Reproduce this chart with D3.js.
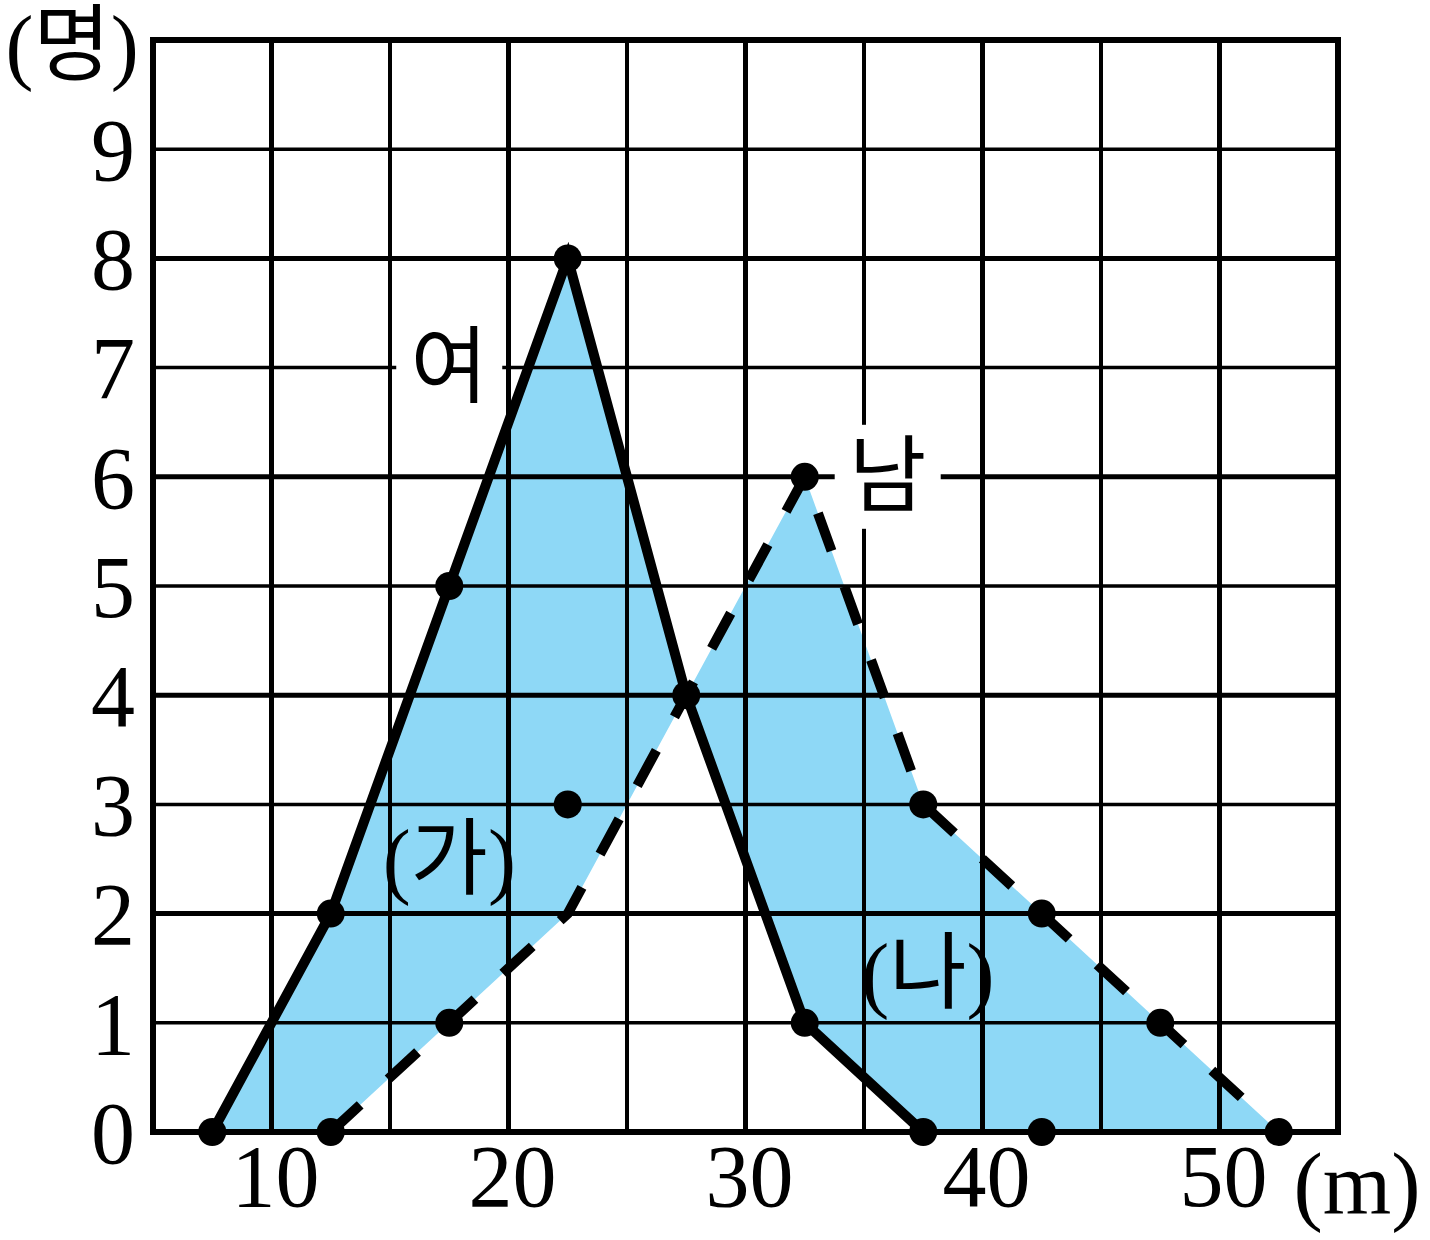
<!DOCTYPE html>
<html><head><meta charset="utf-8">
<script src="https://cdn.jsdelivr.net/npm/d3@7"></script>
<style>body{margin:0;background:#fff}svg{display:block}</style>
</head><body>
<script>
// ---- data ----
const classMarks = [7.5,12.5,17.5,22.5,27.5,32.5,37.5,42.5,47.5,52.5];
const femaleX = [7.5,12.5,17.5,22.5,27.5,32.5,37.5];
const femaleY = [0,2,5,8,4,1,0];
const maleX = [12.5,17.5,22.5,27.5,32.5,37.5,42.5,47.5,52.5];
const maleY = [0,1,2,4,6,3,2,1,0];
const markerX = [7.5,12.5,17.5,22.5,27.5,32.5,37.5,42.5,12.5,17.5,22.5,32.5,37.5,42.5,47.5,52.5];
const markerY = [0,2,5,8,4,1,0,0,0,1,3,6,3,2,1,0];
const xTicks = [10,20,30,40,50];
const yTicks = [0,1,2,3,4,5,6,7,8,9];
const xGrid = [10,15,20,25,30,35,40,45,50];
const yGrid = [1,2,3,4,5,6,7,8,9];
const labels = [
  {text:"여", x:17.5, y:7.0, box:true},
  {text:"남", x:36.0, y:6.0, box:true},
  {text:"(가)", x:17.5, y:2.5, box:false},
  {text:"(나)", x:37.7, y:1.45, box:false}
];

const W=1430,H=1240;
const svg=d3.select("body").append("svg").attr("width",W).attr("height",H);
const x=d3.scaleLinear().domain([5,55]).range([153,1338]);
const y=d3.scaleLinear().domain([0,10]).range([1132,40]);
const serif='"Liberation Serif","Noto Sans CJK KR",serif';

// fill between the two polygons
const lookup=(xs,ys,v)=>{const i=xs.indexOf(v);return i<0?0:ys[i];};
const fillData=classMarks.map(c=>({c,f:lookup(femaleX,femaleY,c),m:lookup(maleX,maleY,c)}));
svg.append("path").datum(fillData)
  .attr("d",d3.area().x(d=>x(d.c)).y0(d=>y(d.f)).y1(d=>y(d.m)))
  .attr("fill","#8ed8f6").attr("fill-rule","nonzero");

// grid
const g=svg.append("g");
g.selectAll(".vx").data(xGrid).join("line")
  .attr("x1",d=>x(d)).attr("x2",d=>x(d)).attr("y1",y(10)).attr("y2",y(0))
  .attr("stroke","#000").attr("stroke-width",d=>d%10===0?5:4);
g.selectAll(".hy").data(yGrid).join("line")
  .attr("y1",d=>y(d)).attr("y2",d=>y(d)).attr("x1",x(5)).attr("x2",x(55))
  .attr("stroke","#000").attr("stroke-width",d=>d%2===0?5:3.5);
svg.append("rect").attr("x",x(5)).attr("y",y(10)).attr("width",x(55)-x(5)).attr("height",y(0)-y(10))
  .attr("fill","none").attr("stroke","#000").attr("stroke-width",6);

// label backgrounds
const fs=84;
labels.filter(d=>d.box).forEach(d=>{
  svg.append("rect").attr("x",x(d.x)-53).attr("y",y(d.y)-52).attr("width",106).attr("height",104).attr("fill","#fff");
});
// keep the grid line at 15 visible beside the 여 label
g.raise();
svg.selectAll("rect").filter(function(){return d3.select(this).attr("fill")==="#fff";}).raise();

// lines
const line=d3.line().x(d=>x(d[0])).y(d=>y(d[1]));
svg.append("path").datum(femaleX.map((v,i)=>[v,femaleY[i]])).attr("d",line)
  .attr("fill","none").attr("stroke","#000").attr("stroke-width",10).attr("stroke-linejoin","miter");
svg.append("path").datum(maleX.map((v,i)=>[v,maleY[i]])).attr("d",line)
  .attr("fill","none").attr("stroke","#000").attr("stroke-width",10).attr("stroke-dasharray","40,38");

// markers
svg.selectAll(".pt").data(markerX.map((v,i)=>[v,markerY[i]])).join("circle")
  .attr("cx",d=>x(d[0])).attr("cy",d=>y(d[1])).attr("r",14).attr("fill","#000");

// labels
labels.forEach(d=>{
  svg.append("text").attr("x",x(d.x)).attr("y",y(d.y)).attr("text-anchor","middle")
    .attr("dominant-baseline","central").attr("font-family",serif).attr("font-size",fs).text(d.text);
});

// axis tick labels
svg.selectAll(".yt").data(yTicks).join("text")
  .attr("x",135).attr("y",d=>y(d)).attr("dy","0.35em").attr("text-anchor","end")
  .attr("font-family",serif).attr("font-size",88).text(d=>d);
svg.selectAll(".xt").data(xTicks).join("text")
  .attr("x",d=>x(d)+4).attr("y",1175).attr("dy","0.35em").attr("text-anchor","middle")
  .attr("font-family",serif).attr("font-size",88).text(d=>d);
svg.append("text").attr("x",1357).attr("y",1183).attr("dy","0.35em").attr("text-anchor","middle")
  .attr("font-family",serif).attr("font-size",88).text("(m)");
svg.append("text").attr("x",72).attr("y",45).attr("dominant-baseline","central").attr("text-anchor","middle")
  .attr("font-family",serif).attr("font-size",84).text("(명)");
</script>
</body></html>
